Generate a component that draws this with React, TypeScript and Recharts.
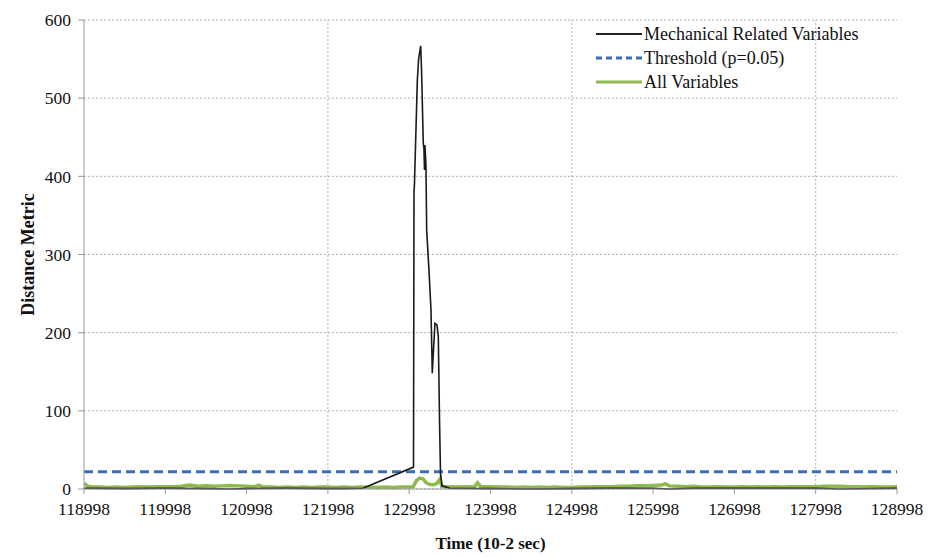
import React from 'react';
import { LineChart, Line, XAxis, YAxis, CartesianGrid, ReferenceLine, Legend, Label } from 'recharts';

const xTicks = [118998, 119998, 120998, 121998, 122998, 123998, 124998, 125998, 126998, 127998, 128998];
const yTicks = [0, 100, 200, 300, 400, 500, 600];
const vGridTimes = [121998, 124998, 127998];

const mechTime = [118998, 119498, 119998, 120498, 120798, 120998, 121498, 121998, 122198, 122430, 123051, 123057, 123063, 123098, 123113, 123139, 123150, 123171, 123180, 123186, 123192, 123204, 123213, 123241, 123266, 123282, 123290, 123315, 123340, 123356, 123371, 123383, 123401, 123498, 123998, 124498, 124998, 125498, 125998, 126198, 126498, 126998, 127498, 127998, 128298, 128998];
const mechValue = [1, 0.5, 1, 0.5, 0, 0.5, 1, 0.5, 0.5, 1, 28, 379, 391, 523, 549, 567, 536, 443, 434, 408, 440, 414, 331, 280, 229, 148, 165, 212, 210, 195, 88, 20, 4, 1, 0.5, 0, 0.5, 1, 1, 0, 1, 1, 1, 1, 0, 1];

const thresholdTime = [118998, 128998];
const thresholdValue = [22, 22];

const allTime = [118998, 119048, 119098, 119198, 119298, 119398, 119498, 119598, 119698, 119798, 119898, 119998, 120098, 120198, 120298, 120398, 120498, 120598, 120698, 120798, 120898, 120998, 121098, 121148, 121198, 121298, 121398, 121498, 121598, 121698, 121798, 121898, 121998, 122098, 122198, 122298, 122398, 122498, 122598, 122698, 122798, 122898, 122998, 123048, 123088, 123128, 123168, 123208, 123248, 123298, 123338, 123378, 123398, 123448, 123498, 123598, 123698, 123798, 123838, 123878, 123998, 124098, 124198, 124298, 124398, 124498, 124598, 124698, 124798, 124898, 124998, 125098, 125198, 125298, 125398, 125498, 125598, 125698, 125798, 125898, 125998, 126098, 126148, 126198, 126298, 126398, 126498, 126598, 126698, 126798, 126898, 126998, 127098, 127198, 127298, 127398, 127498, 127598, 127698, 127798, 127898, 127998, 128098, 128198, 128298, 128398, 128498, 128598, 128698, 128798, 128898, 128998];
const allValue = [7, 3.5, 2.5, 2.5, 2, 2.5, 2, 2.5, 3, 2.5, 3, 3, 3, 3.5, 5, 3.5, 4, 3.5, 4, 4.5, 4, 3.5, 3, 5, 2.5, 2.5, 2, 2.5, 2, 2.5, 2, 2.5, 2.5, 2, 2.5, 2, 2.5, 2.5, 2, 2.5, 2, 2.5, 2.5, 3, 11, 14, 13, 8, 6, 5.5, 7, 13, 3.5, 3, 3, 2.5, 3, 2.5, 8, 3, 3, 2.5, 2.5, 2, 2.5, 2, 2.5, 2, 2.5, 2, 2, 2.5, 2.5, 3, 3, 3, 3.5, 3.5, 4, 4, 4.5, 5, 6.5, 4, 3.5, 3, 3.5, 2.5, 2.5, 3, 2.5, 2.5, 3, 2.5, 3, 2.5, 3, 2.5, 3, 3, 3, 3, 3.5, 3.5, 3.5, 3, 3, 2.5, 3, 2.5, 2.5, 3];

const mechData = mechTime.map((t, i) => ({ t, v: mechValue[i] }));
const thresholdData = thresholdTime.map((t, i) => ({ t, v: thresholdValue[i] }));
const allData = allTime.map((t, i) => ({ t, v: allValue[i] }));

const FONT = "'Liberation Serif', 'Times New Roman', Times, serif";

const legendItems = [
  { name: 'Mechanical Related Variables', color: '#222222', dash: undefined, width: 2 },
  { name: 'Threshold (p=0.05)', color: '#3C6EB8', dash: '6 4', width: 3 },
  { name: 'All Variables', color: '#8DBA4C', dash: undefined, width: 3 },
];

const LegendContent = () => (
  <div style={{ fontFamily: FONT, fontSize: 18, color: '#111', width: 330 }}>
    {legendItems.map((it) => (
      <div key={it.name} style={{ display: 'flex', alignItems: 'center', height: 24 }}>
        <svg width={46} height={10} style={{ marginRight: 2 }}>
          <line x1={0} y1={5} x2={46} y2={5} stroke={it.color} strokeWidth={it.width} strokeDasharray={it.dash} />
        </svg>
        <span>{it.name}</span>
      </div>
    ))}
  </div>
);

const YTitle = (props: any) => {
  const vb = props.viewBox || {};
  const cy = vb.y + vb.height / 2;
  return (
    <text x={28} y={cy} transform={`rotate(-90, 28, ${cy})`} textAnchor="middle" dominantBaseline="central"
      style={{ fontFamily: FONT, fontSize: 18, fontWeight: 'bold', fill: '#111' }}>
      Distance Metric
    </text>
  );
};

const XTitle = (props: any) => {
  const vb = props.viewBox || {};
  const cx = vb.x + vb.width / 2;
  return (
    <text x={cx} y={543} textAnchor="middle" dominantBaseline="central"
      style={{ fontFamily: FONT, fontSize: 17, fontWeight: 'bold', fill: '#111' }}>
      Time (10-2 sec)
    </text>
  );
};

export default function App() {
  return (
    <div style={{ position: 'absolute', left: 0, top: 0, background: '#fff' }}>
      <LineChart width={935} height={557} margin={{ top: 20, right: 38, left: 0, bottom: 0 }}>
        <CartesianGrid vertical={false} stroke="#b0b0b0" strokeDasharray="2 2" />
        {vGridTimes.map((t) => (
          <ReferenceLine key={t} x={t} stroke="#b0b0b0" strokeDasharray="2 2" />
        ))}
        <XAxis
          dataKey="t"
          type="number"
          domain={[118998, 128998]}
          ticks={xTicks}
          interval={0}
          allowDataOverflow
          height={68}
          stroke="#999"
          tickSize={5}
          tickMargin={9}
          tick={{ fontFamily: FONT, fontSize: 17.5, fill: '#111' }}
        >
          <Label content={<XTitle />} />
        </XAxis>
        <YAxis
          dataKey="v"
          type="number"
          domain={[0, 600]}
          ticks={yTicks}
          interval={0}
          width={84}
          stroke="#999"
          tickSize={6}
          tickMargin={7}
          tick={{ fontFamily: FONT, fontSize: 17.5, fill: '#111' }}
        >
          <Label content={<YTitle />} />
        </YAxis>
        <Legend
          layout="horizontal"
          verticalAlign="top"
          align="left"
          content={<LegendContent />}
          wrapperStyle={{ position: 'absolute', left: 596, top: 22, width: 0, height: 0, overflow: 'visible' }}
        />
        <Line data={allData} dataKey="v" name="All Variables" stroke="#8DBA4C" strokeWidth={3.5} dot={false} isAnimationActive={false} />
        <Line data={thresholdData} dataKey="v" name="Threshold (p=0.05)" stroke="#3C6EB8" strokeWidth={3} strokeDasharray="9 5" dot={false} isAnimationActive={false} />
        <Line data={mechData} dataKey="v" name="Mechanical Related Variables" stroke="#1a1a1a" strokeWidth={1.6} dot={false} isAnimationActive={false} />
      </LineChart>
    </div>
  );
}
